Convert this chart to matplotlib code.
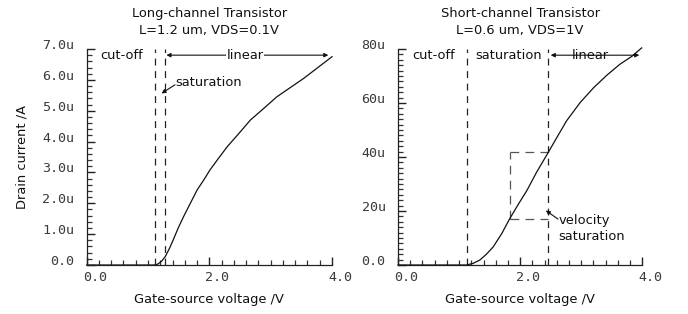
import matplotlib
matplotlib.use("Agg")
import matplotlib.pyplot as plt
import matplotlib.transforms as mtransforms
from matplotlib.ticker import MultipleLocator

# Long-channel transistor, L=1.2 um, VDS=0.1V  (current in uA)
vgs_long = [0.0, 1.0, 1.10, 1.16, 1.22, 1.28, 1.35, 1.41, 1.49, 1.58, 1.69, 1.80, 1.91,
            2.01, 2.15, 2.29, 2.48, 2.67, 2.89, 3.10, 3.32, 3.54, 3.75, 4.0]
id_long = [0.0, 0.0, 0.0, 0.03, 0.12, 0.27, 0.54, 0.81, 1.19, 1.57, 2.0, 2.43, 2.76,
           3.08, 3.46, 3.83, 4.26, 4.70, 5.08, 5.45, 5.75, 6.05, 6.37, 6.75]

# Short-channel transistor, L=0.6 um, VDS=1V  (current in uA)
vgs_short = [0.0, 1.0, 1.12, 1.23, 1.34, 1.45, 1.56, 1.70, 1.83, 1.97, 2.11, 2.27, 2.46,
             2.60, 2.76, 2.98, 3.20, 3.42, 3.63, 3.83, 3.99]
id_short = [0.0, 0.0, 0.0, 0.61, 1.84, 4.05, 6.75, 11.7, 17.2, 22.5, 27.6, 34.4, 41.7,
            47.2, 53.4, 60.1, 65.6, 70.3, 74.3, 77.3, 80.4]

# region boundaries (V)
long_bounds = [1.12, 1.27]
short_bounds = [1.13, 2.46]
# velocity saturation box
box_v = [1.83, 2.46]
box_i = [17.2, 41.7]

long_yticks = [0, 1, 2, 3, 4, 5, 6, 7]
long_ylabels = ["0.0", "1.0u", "2.0u", "3.0u", "4.0u", "5.0u", "6.0u", "7.0u"]
short_yticks = [0, 20, 40, 60, 80]
short_ylabels = ["0.0", "20u", "40u", "60u", "80u"]
xticks = [0, 2, 4]
xlabels = ["0.0", "2.0", "4.0"]

txt = dict(family="DejaVu Sans", fontsize=9.4, color="#111111")
tickfont = dict(family="DejaVu Sans Mono", fontsize=9.6, color="#3a3a3a")
dash = dict(color="#222222", lw=0.9, dashes=(5.5, 4.5))
arrow = dict(arrowstyle="<|-|>", color="#111111", lw=0.8, mutation_scale=6,
             shrinkA=0, shrinkB=0)
pointer = dict(arrowstyle="-|>", color="#111111", lw=0.8, mutation_scale=6,
               shrinkA=0, shrinkB=0)

fig = plt.figure(figsize=(6.88, 3.14), dpi=100)
ax1 = fig.add_axes([0.126, 0.156, 0.3566, 0.688])
ax2 = fig.add_axes([0.5785, 0.156, 0.3551, 0.688])


def style_axis(ax, yticks, ylabels, yminor, ymax):
    ax.set_xlim(0, 4)
    ax.set_ylim(0, ymax)
    for s in ["top", "right"]:
        ax.spines[s].set_visible(False)
    for s in ["left", "bottom"]:
        ax.spines[s].set_linewidth(0.9)
        ax.spines[s].set_color("#222222")
    ax.set_xticks(xticks)
    ax.set_xticklabels(xlabels, **tickfont)
    ax.set_yticks(yticks)
    ax.set_yticklabels(ylabels, **tickfont)
    ax.xaxis.set_minor_locator(MultipleLocator(0.2))
    ax.yaxis.set_minor_locator(MultipleLocator(yminor))
    ax.tick_params(which="major", direction="in", length=5.5, width=1.0,
                   color="#222222", pad=4, bottom=True, left=True)
    ax.tick_params(which="minor", direction="in", length=3.5, width=0.9,
                   color="#333333", bottom=True, left=True)
    ax.tick_params(axis="y", which="major", pad=9)
    # labels in the original sit a little off their ticks
    xoff = mtransforms.ScaledTranslation(8 / 100, 0, fig.dpi_scale_trans)
    yoff = mtransforms.ScaledTranslation(0, 5 / 100, fig.dpi_scale_trans)
    for lab in ax.get_xticklabels():
        lab.set_transform(lab.get_transform() + xoff)
    for lab in ax.get_yticklabels():
        lab.set_transform(lab.get_transform() + yoff)
    ax.set_xlabel("Gate-source voltage /V", labelpad=7, **txt)


# ---- long channel
ax = ax1
style_axis(ax, long_yticks, long_ylabels, 0.2, 7.0)
ax.plot(vgs_long, id_long, color="#111111", lw=0.9, clip_on=False)
for b in long_bounds:
    ax.plot([b, b], [0, 7.0], **dash)
ax.set_title("Long-channel Transistor\nL=1.2 um, VDS=0.1V", pad=11, linespacing=1.35, **txt)
ax.set_ylabel("Drain current /A", labelpad=10, **txt)
ax.text(0.22, 6.8, "cut-off", ha="left", va="center", **txt)
ax.annotate("", xy=(1.30, 6.8), xytext=(3.94, 6.8), arrowprops=arrow)
ax.text(2.58, 6.8, "linear", ha="center", va="center",
        bbox=dict(facecolor="white", edgecolor="none", pad=0.5), **txt)
ax.annotate("", xy=(1.22, 5.56), xytext=(1.44, 5.84), arrowprops=pointer)
ax.text(1.45, 5.92, "saturation", ha="left", va="center", **txt)

# ---- short channel
ax = ax2
style_axis(ax, short_yticks, short_ylabels, 2, 80)
ax.plot(vgs_short, id_short, color="#111111", lw=0.9, zorder=3, clip_on=False)
for b in short_bounds:
    ax.plot([b, b], [0, 80], **dash)
box = dict(color="#555555", lw=0.9, dashes=(7, 5))
ax.plot([box_v[0], box_v[0]], box_i, **box)
ax.plot(box_v, [box_i[0], box_i[0]], **box)
ax.plot(box_v, [box_i[1], box_i[1]], **box)
ax.set_title("Short-channel Transistor\nL=0.6 um, VDS=1V", pad=11, linespacing=1.35, **txt)
ax.text(0.23, 77.7, "cut-off", ha="left", va="center", **txt)
ax.text(1.27, 77.7, "saturation", ha="left", va="center", **txt)
ax.annotate("", xy=(2.50, 77.7), xytext=(3.95, 77.7), arrowprops=arrow)
ax.text(3.15, 77.7, "linear", ha="center", va="center",
        bbox=dict(facecolor="white", edgecolor="none", pad=0.5), zorder=2, **txt)
ax.annotate("", xy=(2.42, 20.2), xytext=(2.62, 17.0), arrowprops=pointer)
ax.text(2.63, 13.5, "velocity\nsaturation", ha="left", va="center", linespacing=1.25, **txt)

fig.savefig("out.png", dpi=100)
